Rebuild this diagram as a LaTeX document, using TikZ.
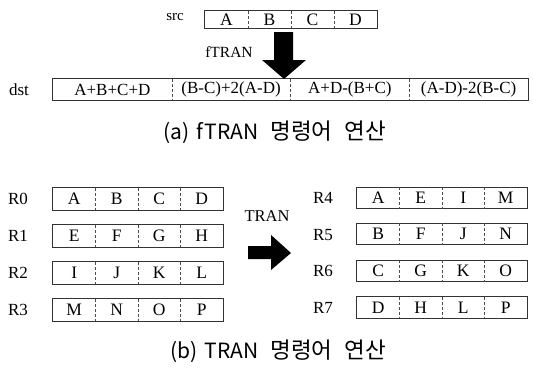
\documentclass[tikz,border=0pt]{standalone}
\usepackage{fontspec}
\setmainfont{Liberation Serif}
\newfontfamily\krfont{Noto Sans CJK KR}
\newcommand\hg[1]{{\fontsize{22.5}{22.5}\selectfont #1}}
\tikzset{
  cell/.style={inner sep=0pt, anchor=center, font=\fontsize{17.5}{17.5}\selectfont},
  lbl/.style={inner sep=0pt, anchor=center, font=\fontsize{17}{17}\selectfont},
  frame/.style={draw=black!80, line width=0.7pt},
  divider/.style={draw=black!70, line width=0.6pt, dash pattern=on 3pt off 2pt},
  caption/.style={inner sep=0pt, anchor=east, font=\krfont\fontsize{21}{21}\selectfont},
  blockarrow/.style={fill=black}
}
\newcommand\regrow[9]{%
  \node[cell, minimum width=#4pt, minimum height=#5pt] (#1a) at ({#2+0.5*#4},#3) {#6};
  \node[cell, minimum width=#4pt, minimum height=#5pt] (#1b) at ({#2+1.5*#4},#3) {#7};
  \node[cell, minimum width=#4pt, minimum height=#5pt] (#1c) at ({#2+2.5*#4},#3) {#8};
  \node[cell, minimum width=#4pt, minimum height=#5pt] (#1d) at ({#2+3.5*#4},#3) {#9};
  \draw[frame] (#1a.north west) rectangle (#1d.south east);
  \draw[divider] (#1a.north east) -- (#1a.south east);
  \draw[divider] (#1b.north east) -- (#1b.south east);
  \draw[divider] (#1c.north east) -- (#1c.south east);
}
\begin{document}
\begin{tikzpicture}[x=1pt,y=-1pt]
\useasboundingbox[fill=white] (0,0) rectangle (533,372);

% ---- (a) fTRAN ----
\node[lbl, font=\fontsize{15}{15}\selectfont] (srclbl) at (175,17) {src};
\regrow{s}{205}{19.5}{43}{17}{A}{B}{C}{D}

\node[lbl, font=\fontsize{15.5}{15.5}\selectfont] (ftran) at (229,52) {fTRAN};

\node[lbl] (dstlbl) at (19,90) {dst};
\begin{scope}[cell/.append style={font=\fontsize{17}{17}\selectfont}]
\regrow{d}{53}{89.5}{118.75}{21}{A+B+C+D}{(B-C)+2(A-D)}{A+D-(B+C)}{(A-D)-2(B-C)}
\end{scope}

\coordinate (dtip) at (284,79);
\fill[blockarrow] (274,32) -- (293,32) -- (293,60) -- (306,60) -- (dtip) -- (262,60) -- (274,60) -- cycle;

\node[caption] (capa) at (386,132) {(a)\hspace{7pt}fTRAN\hspace{12pt}\hg{명령어}\hspace{12pt}\hg{연산}};

% ---- (b) TRAN ----
\node[lbl] (r0) at (18,199) {R0};
\node[lbl] (r1) at (18,236) {R1};
\node[lbl] (r2) at (18,273) {R2};
\node[lbl] (r3) at (18,310) {R3};
\regrow{ra}{53}{199}{42.5}{22}{A}{B}{C}{D}
\regrow{rb}{53}{236}{42.5}{22}{E}{F}{G}{H}
\regrow{rc}{53}{273}{42.5}{22}{I}{J}{K}{L}
\regrow{rd}{53}{310}{42.5}{22}{M}{N}{O}{P}

\node[lbl, font=\fontsize{16.5}{16.5}\selectfont] (tran) at (267,216) {TRAN};
\coordinate (rtip) at (291,253);
\fill[blockarrow] (248,246) -- (271,246) -- (271,235) -- (rtip) -- (271,270) -- (271,259) -- (248,259) -- cycle;

\node[lbl] (r4) at (323,198) {R4};
\node[lbl] (r5) at (323,235) {R5};
\node[lbl] (r6) at (323,271) {R6};
\node[lbl] (r7) at (323,308) {R7};
\regrow{re}{357}{198}{42.5}{21}{A}{E}{I}{M}
\regrow{rf}{357}{234}{42.5}{21}{B}{F}{J}{N}
\regrow{rg}{357}{271}{42.5}{21}{C}{G}{K}{O}
\regrow{rh}{357}{307.5}{42.5}{21}{D}{H}{L}{P}

\node[caption] (capb) at (386,351) {(b)\hspace{7pt}TRAN\hspace{12pt}\hg{명령어}\hspace{12pt}\hg{연산}};
\end{tikzpicture}
\end{document}
